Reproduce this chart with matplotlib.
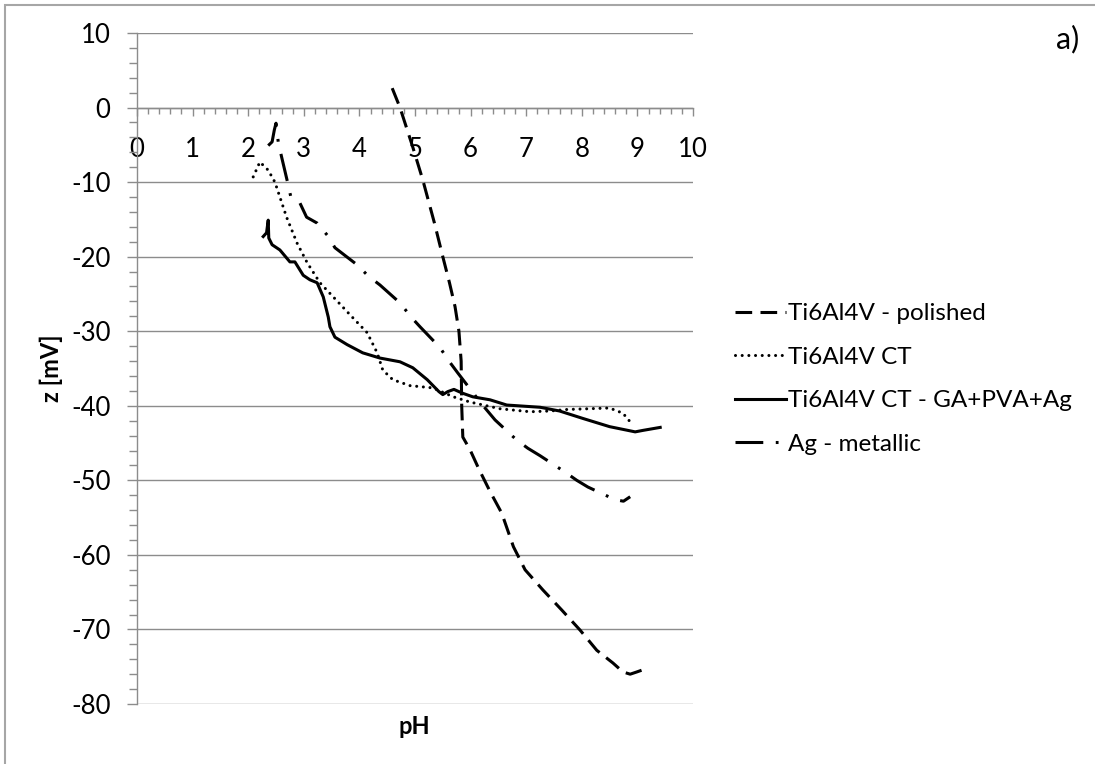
import matplotlib
matplotlib.use("Agg")
import matplotlib.pyplot as plt
from matplotlib.patches import Rectangle
from matplotlib.ticker import MultipleLocator

plt.rcParams['font.family'] = ['Lato', 'DejaVu Sans']
plt.rcParams['lines.scale_dashes'] = False
plt.rcParams['axes.unicode_minus'] = False

# zeta potential vs pH
ph_pol = [4.59, 4.73, 4.96, 5.14, 5.35, 5.5, 5.62, 5.72, 5.79, 5.83, 5.84, 5.86, 5.99, 6.15,
          6.35, 6.56, 6.77, 6.98, 7.3, 7.64, 7.97, 8.27, 8.56, 8.74, 8.87, 8.99, 9.14]
z_pol = [2.6, 0.0, -5.3, -9.7, -15.5, -20.0, -23.5, -26.7, -30.0, -34.0, -40.0, -44.2, -45.9, -48.5,
         -51.5, -54.4, -58.9, -62.0, -64.7, -67.4, -70.1, -72.8, -74.5, -75.7, -76.0, -75.7, -75.3]

ph_ct = [2.09, 2.21, 2.36, 2.48, 2.57, 2.69, 2.88, 3.06, 3.29, 3.53, 3.87, 4.14, 4.32, 4.42,
         4.6, 4.91, 5.32, 5.69, 5.99, 6.53, 7.07, 7.43, 7.73, 8.5, 8.74, 8.92]
z_ct = [-9.3, -7.3, -8.4, -10.0, -12.0, -14.7, -18.2, -20.8, -23.5, -25.4, -28.1, -30.2, -32.9, -35.2,
        -36.5, -37.3, -37.6, -38.8, -39.5, -40.4, -40.8, -40.7, -40.5, -40.3, -41.0, -42.6]

ph_coat = [2.27, 2.33, 2.36, 2.37, 2.43, 2.57, 2.75, 2.84, 2.99, 3.11, 3.24, 3.35, 3.44, 3.47,
           3.56, 3.78, 4.06, 4.37, 4.73, 4.96, 5.22, 5.43, 5.5, 5.59, 5.7, 5.76, 5.85, 6.04,
           6.35, 6.65, 7.25, 7.6, 8.02, 8.5, 8.96, 9.1, 9.41]
z_coat = [-17.3, -16.8, -15.1, -17.5, -18.4, -19.1, -20.7, -20.7, -22.5, -23.1, -23.5, -25.4, -28.1, -29.4,
          -30.8, -31.8, -32.9, -33.6, -34.1, -34.9, -36.5, -38.1, -38.5, -38.1, -37.8, -38.0, -38.3, -38.8,
          -39.2, -39.9, -40.2, -40.7, -41.7, -42.8, -43.5, -43.3, -42.9]

ph_ag = [2.36, 2.43, 2.47, 2.5, 2.54, 2.6, 2.66, 2.72, 2.77, 2.85, 2.93, 3.05, 3.24, 3.42,
         3.56, 3.96, 4.16, 4.37, 4.73, 4.93, 5.09, 5.45, 5.61, 5.77, 6.1, 6.26, 6.44, 6.83,
         7.03, 7.25, 7.7, 7.91, 8.11, 8.6, 8.75, 8.87]
z_ag = [-5.1, -4.6, -3.0, -2.1, -4.6, -6.6, -8.5, -10.4, -12.1, -12.5, -12.8, -14.7, -15.5, -17.1,
        -18.8, -21.1, -22.6, -23.8, -26.2, -28.1, -29.4, -32.2, -34.0, -35.6, -38.8, -40.3, -41.9, -44.6,
        -45.7, -46.7, -48.9, -50.0, -50.9, -52.6, -52.8, -52.2]

labels = ["Ti6Al4V - polished", "Ti6Al4V CT", "Ti6Al4V CT - GA+PVA+Ag", "Ag - metallic"]

grey = "#8c8c8c"
W, H = 1095, 764
fig = plt.figure(figsize=(W / 100, H / 100), dpi=100)
ax = fig.add_axes([137 / W, 1 - 704 / H, 556 / W, 671 / H])

lw = 2.2
ax.plot(ph_pol, z_pol, color="black", lw=lw, dashes=(12, 6), label=labels[0])
ax.plot(ph_ct, z_ct, color="black", lw=lw, dashes=(0.01, 4.8), dash_capstyle="round", label=labels[1])
ax.plot(ph_coat, z_coat, color="black", lw=lw, label=labels[2])
ax.plot(ph_ag, z_ag, color="black", lw=lw, dashes=(20, 9, 2, 9), label=labels[3])

ax.set_xlim(0, 10)
ax.set_ylim(-80, 10)
ax.xaxis.set_major_locator(MultipleLocator(1))
ax.xaxis.set_minor_locator(MultipleLocator(0.2))
ax.yaxis.set_major_locator(MultipleLocator(10))
ax.yaxis.set_minor_locator(MultipleLocator(2))

ax.grid(axis="y", which="major", color=grey, lw=1.0)
ax.set_axisbelow(True)
for s in ["top", "right"]:
    ax.spines[s].set_visible(False)
ax.spines["bottom"].set_position(("data", 0))
for s in ["left", "bottom"]:
    ax.spines[s].set_color(grey)
    ax.spines[s].set_linewidth(1.0)

ax.tick_params(axis="both", which="both", colors=grey, width=1.0, direction="out")
ax.tick_params(axis="y", which="major", length=7, pad=12, labelsize=18.5, labelcolor="black")
ax.tick_params(axis="y", which="minor", length=5.5)
ax.tick_params(axis="x", which="major", length=6, pad=15, labelsize=18.5, labelcolor="black")
ax.tick_params(axis="x", which="minor", length=4.5)

fig.text(414 / W, 1 - 727 / H, "pH", fontsize=17, fontweight="bold", ha="center", va="center")
fig.text(51 / W, 1 - 368 / H, "z [mV]", fontsize=17, fontweight="bold", rotation=90,
         ha="center", va="center")
fig.text(1068 / W, 1 - 39 / H, "a)", fontsize=22, ha="center", va="center")

fig.legend(loc="center left", bbox_to_anchor=(735 / W, 1 - 379 / H), frameon=False,
           fontsize=17.5, handlelength=2.1, handletextpad=0.1, labelspacing=0.93,
           borderpad=0, borderaxespad=0)

# outer chart frame
fig.patches.append(Rectangle((5 / W, -0.1), 1.2, 1.1 - 5 / H, transform=fig.transFigure,
                             fill=False, edgecolor="#a6a6a6", lw=1.5))

fig.savefig("out.png", dpi=100)
